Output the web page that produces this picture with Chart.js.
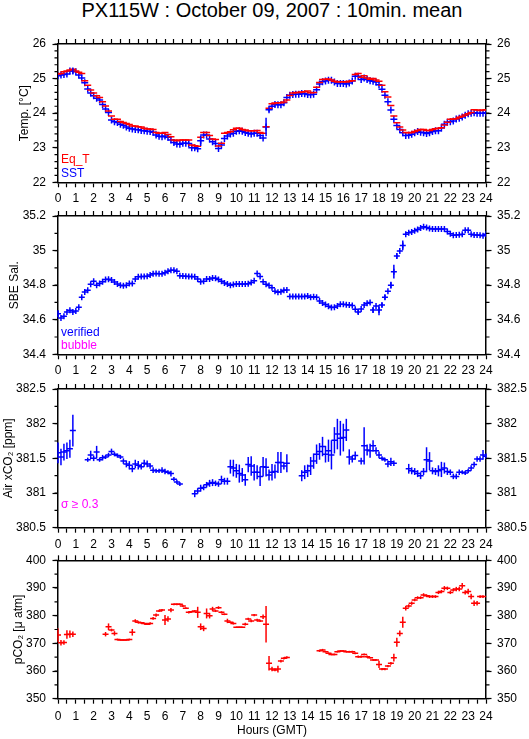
<!DOCTYPE html>
<html>
<head>
<meta charset="utf-8">
<script src="https://cdn.jsdelivr.net/npm/chart.js@4.4.1/dist/chart.umd.min.js"></script>
<style>
  body { margin: 0; background: #fff; font-family: "Liberation Sans", Arial, sans-serif; }
  #page { position: relative; width: 529px; height: 739px; overflow: hidden; }
  .panel { position: absolute; left: 0; width: 529px; }
  .title { position: absolute; left: 58px; width: 428px; top: 0; font-size: 20px; line-height: 20px; text-align: center; }
  .note { position: absolute; left: 61px; font-size: 12px; line-height: 12px; }
</style>
</head>
<body>
<div id="page">
  <div class="title">PX115W : October 09, 2007 : 10min. mean</div>
  <div class="panel" style="top:24px;height:186px"><canvas id="c1"></canvas></div>
  <div class="panel" style="top:200px;height:180px"><canvas id="c2"></canvas></div>
  <div class="panel" style="top:375px;height:175px"><canvas id="c3"></canvas></div>
  <div class="panel" style="top:546px;height:193px"><canvas id="c4"></canvas></div>
  <div class="note" style="top:152.5px;color:#f00">Eq_T</div>
  <div class="note" style="top:166.5px;color:#00f">SST</div>
  <div class="note" style="top:325.8px;color:#00f">verified</div>
  <div class="note" style="top:338.8px;color:#f0f">bubble</div>
  <div class="note" style="top:497.5px;color:#f0f">σ ≥ 0.3</div>
</div>
<script>
/* 10-minute means, one row per hour (6 values), last value = 24:00 */

// sampling grid: 0 .. 24 h every 10 min
const hours = Array.from({ length: 145 }, (_, i) => i / 6);

const eqT = [
  25.13, 25.15, 25.20, 25.22, 25.25, 25.27,
  25.22, 25.18, 25.15, 24.94, 24.81, 24.67,
  24.58, 24.50, 24.45, 24.33, 24.21, 24.06,
  23.92, 23.82, 23.82, 23.76, 23.73, 23.70,
  23.67, 23.63, 23.63, 23.61, 23.60, 23.56,
  23.54, 23.54, 23.53, 23.44, 23.42, 23.42,
  23.44, 23.38, 23.32, 23.22, 23.20, 23.22,
  23.22, 23.22, 23.22, 23.08, 23.06, 23.04,
  23.30, 23.44, 23.44, 23.35, 23.25, 23.24,
  23.05, 23.13, 23.42, 23.44, 23.46, 23.52,
  23.56, 23.56, 23.53, 23.51, 23.49, 23.49,
  23.49, 23.50, 23.44, 23.42, 23.61, 24.14,
  24.27, 24.29, 24.30, 24.30, 24.32, 24.38,
  24.51, 24.58, 24.60, 24.60, 24.61, 24.62,
  24.64, 24.59, 24.60, 24.75, 24.89, 24.97,
  24.98, 24.99, 24.96, 24.92, 24.90, 24.91,
  24.91, 24.90, 24.92, 24.94, 25.12, 25.15,
  25.04, 25.08, 25.02, 24.98, 25.00, 24.96,
  24.92, 24.81, 24.62, 24.47, 24.22, 23.92,
  23.72, 23.60, 23.51, 23.44, 23.43, 23.44,
  23.47, 23.50, 23.53, 23.53, 23.50, 23.50,
  23.53, 23.55, 23.56, 23.58, 23.66, 23.74,
  23.82, 23.83, 23.84, 23.88, 23.91, 23.95,
  23.98, 24.02, 24.10, 24.09, 24.08, 24.09,
  24.10
];

const sst = [
  25.08, 25.10, 25.12, 25.13, 25.22, 25.22,
  25.20, 25.10, 25.02, 24.88, 24.70, 24.58,
  24.50, 24.43, 24.38, 24.25, 24.12, 24.02,
  23.80, 23.75, 23.73, 23.68, 23.65, 23.60,
  23.56, 23.54, 23.53, 23.52, 23.50, 23.49,
  23.48, 23.47, 23.45, 23.37, 23.33, 23.32,
  23.34, 23.30, 23.22, 23.15, 23.11, 23.10,
  23.13, 23.13, 23.12, 23.00, 23.00, 22.97,
  23.20, 23.37, 23.37, 23.25, 23.17, 23.12,
  22.98, 23.08, 23.27, 23.34, 23.40, 23.42,
  23.48, 23.49, 23.48, 23.44, 23.42, 23.40,
  23.42, 23.42, 23.35, 23.28, 23.60, 24.10,
  24.20, 24.25, 24.24, 24.24, 24.30, 24.45,
  24.52, 24.54, 24.55, 24.55, 24.57, 24.56,
  24.54, 24.53, 24.55, 24.68, 24.84, 24.91,
  24.93, 24.95, 24.95, 24.90, 24.86, 24.86,
  24.86, 24.84, 24.87, 24.93, 25.07, 25.07,
  24.97, 25.02, 24.97, 24.94, 24.92, 24.90,
  24.82, 24.69, 24.52, 24.33, 24.09, 23.82,
  23.64, 23.53, 23.43, 23.35, 23.36, 23.39,
  23.43, 23.47, 23.45, 23.43, 23.41, 23.43,
  23.47, 23.49, 23.49, 23.57, 23.68, 23.74,
  23.75, 23.77, 23.83, 23.85, 23.89, 23.94,
  23.98, 24.00, 24.01, 24.00, 24.00, 24.00,
  24.01
];
// [index, half-length] of the longer SST error bars
const sstBars = [[5, 0.08], [48, 0.15], [70, 0.27], [71, 0.06]];

const salinity = [
  34.635, 34.610, 34.620, 34.645, 34.655, 34.645,
  34.650, 34.672, 34.730, 34.760, 34.770, 34.805,
  34.822, 34.800, 34.810, 34.820, 34.832, 34.834,
  34.830, 34.818, 34.807, 34.800, 34.797, 34.800,
  34.810, 34.810, 34.836, 34.848, 34.850, 34.850,
  34.852, 34.858, 34.866, 34.868, 34.866, 34.866,
  34.872, 34.880, 34.886, 34.886, 34.880, 34.855,
  34.853, 34.852, 34.850, 34.850, 34.848, 34.835,
  34.820, 34.822, 34.836, 34.836, 34.842, 34.840,
  34.832, 34.823, 34.812, 34.806, 34.800, 34.804,
  34.806, 34.807, 34.807, 34.807, 34.808, 34.815,
  34.825, 34.868, 34.850, 34.820, 34.805, 34.798,
  34.785, 34.765, 34.759, 34.762, 34.770, 34.772,
  34.735, 34.734, 34.734, 34.734, 34.734, 34.735,
  34.737, 34.730, 34.733, 34.730, 34.708, 34.697,
  34.688, 34.678, 34.670, 34.672, 34.680, 34.690,
  34.690, 34.687, 34.685, 34.682, 34.660, 34.645,
  34.662, 34.685, 34.695, 34.700, 34.656, 34.680,
  34.656, 34.685, 34.730, 34.764, 34.800, 34.878,
  34.969, 34.998, 35.030, 35.095, 35.103, 35.108,
  35.115, 35.122, 35.130, 35.138, 35.133, 35.128,
  35.125, 35.125, 35.125, 35.125, 35.125, 35.110,
  35.098, 35.088, 35.090, 35.092, 35.094, 35.118,
  35.118, 35.095, 35.090, 35.090, 35.088, 35.086,
  35.094
];
const salBars = [[0, 0.02], [101, 0.012], [106, 0.015], [108, 0.03], [109, 0.012],
                 [110, 0.015], [112, 0.02], [113, 0.04], [114, 0.016], [116, 0.028]];

const airCO2 = [
  381.58, 381.52, 381.59, 381.61, 381.64, 381.90,
  null, null, null, null, 381.48, 381.55,
  381.50, 381.59, 381.48, 381.51, 381.52, 381.55,
  381.60, 381.56, 381.54, 381.52, 381.46, 381.42,
  381.40, 381.35, 381.42, 381.40, 381.38, 381.43,
  381.42, 381.39, 381.33, 381.32, 381.32, 381.33,
  381.31, 381.30, 381.28, 381.20, 381.16, 381.13,
  null, null, null, null, 380.99, 381.03,
  381.07, 381.08, 381.12, 381.14, 381.15, 381.14,
  381.13, 381.19, 381.17, 381.17, 381.38, 381.36,
  381.32, 381.28, 381.26, 381.19, 381.41, 381.39,
  381.30, 381.30, 381.24, 381.38, 381.37, 381.26,
  381.30, 381.31, 381.44, 381.44, 381.39, 381.43,
  null, null, null, null, 381.25, 381.30,
  381.32, 381.39, 381.46, 381.56, 381.60, 381.67,
  381.56, 381.61, 381.55, 381.76, 381.85, 381.79,
  381.80, 381.91, 381.52, 381.49, 381.54, null,
  381.46, 381.68, 381.62, 381.61, 381.68, 381.61,
  381.55, 381.50, 381.48, 381.42, 381.45, 381.43,
  null, null, null, null, 381.35, 381.32,
  381.31, 381.28, 381.25, 381.31, 381.48, 381.46,
  381.32, 381.31, 381.32, 381.34, 381.36, 381.31,
  381.30, 381.24, 381.24, 381.30, 381.30, 381.29,
  381.32, 381.36, 381.41, 381.49, 381.49, 381.55,
  381.53
];
const airErr = [
  0.15, 0.12, 0.12, 0.12, 0.13, 0.23,
  0, 0, 0, 0, 0.03, 0.06,
  0.04, 0.09, 0.03, 0.04, 0.03, 0.03,
  0.04, 0.03, 0.03, 0.03, 0.04, 0.05,
  0.06, 0.05, 0.06, 0.06, 0.04, 0.05,
  0.05, 0.04, 0.04, 0.03, 0.03, 0.04,
  0.04, 0.03, 0.04, 0.03, 0.03, 0.03,
  0, 0, 0, 0, 0.05, 0.04,
  0.05, 0.04, 0.04, 0.05, 0.05, 0.04,
  0.04, 0.06, 0.05, 0.05, 0.10, 0.12,
  0.10, 0.13, 0.10, 0.085, 0.11, 0.14,
  0.12, 0.10, 0.14, 0.14, 0.13, 0.08,
  0.12, 0.10, 0.15, 0.15, 0.05, 0.13,
  0, 0, 0, 0, 0.08, 0.10,
  0.09, 0.13, 0.11, 0.14, 0.12, 0.14,
  0.12, 0.16, 0.21, 0.19, 0.22, 0.25,
  0.20, 0.16, 0.11, 0.05, 0.06, 0,
  0.05, 0.27, 0.08, 0.10, 0.08, 0.05,
  0.05, 0.03, 0.03, 0.05, 0.06, 0.04,
  0, 0, 0, 0, 0.07, 0.05,
  0.05, 0.05, 0.05, 0.05, 0.18, 0.13,
  0.05, 0.05, 0.08, 0.11, 0.08, 0.05,
  0.04, 0.04, 0.04, 0.04, 0.03, 0.03,
  0.03, 0.04, 0.04, 0.04, 0.04, 0.07,
  0.04
];

const pCO2 = [
  373.0, 370.2, 370.3, 373.2, 373.3, 373.3,
  null, null, null, null, null, null,
  null, null, null, null, 373.3, 376.0,
  374.8, 373.6, 371.4, 371.2, 371.2, 371.2,
  371.4, 374.0, 378.1, 377.6, 377.4, 377.2,
  376.9, 377.2, 379.0, 380.2, 381.7, 382.0,
  378.4, 378.8, 382.0, 384.1, 384.1, 384.1,
  383.5, 382.7, 381.2, 381.4, 381.7, 381.2,
  376.0, 375.4, 380.8, 380.0, 382.4, 381.7,
  382.9, 381.2, 380.5, 378.1, 377.6, 377.2,
  375.8, 375.8, 375.8, 376.9, 378.8, 378.1,
  380.2, 378.4, 378.1, 379.6, 376.9, 362.8,
  360.7, 360.4, 360.7, 363.6, 364.6, 364.9,
  null, null, null, null, null, null,
  null, null, null, null, 367.3, 367.6,
  367.0, 366.4, 366.0, 366.0, 367.0, 367.2,
  367.2, 367.0, 367.0, 367.0, 366.4, 365.2,
  365.2, 366.0, 365.2, 364.8, 364.0, 364.0,
  362.4, 360.7, 360.7, 361.8, 362.8, 364.8,
  370.4, 373.6, 377.6, 382.7, 383.5, 384.5,
  385.7, 386.5, 386.5, 387.5, 387.2, 386.9,
  386.9, 386.9, 388.4, 388.7, 389.9, 389.9,
  388.4, 389.3, 389.6, 389.6, 390.8, 388.4,
  388.7, 386.9, 384.5, 384.5, 386.9, 386.9,
  null
];
const pCO2Err = [
  2.4, 1.0, 0.8, 1.5, 1.3, 1.0,
  0, 0, 0, 0, 0, 0,
  0, 0, 0, 0, 0.8, 1.2,
  0.5, 0.8, 0.3, 0.2, 0.2, 0.2,
  0.3, 1.2, 0.6, 0.4, 0.3, 0.3,
  0.3, 0.4, 0.5, 0.6, 0.4, 0.4,
  1.8, 1.0, 0.8, 0.3, 0.3, 0.3,
  0.4, 0.3, 0.4, 0.3, 0.3, 2.0,
  1.2, 1.0, 1.8, 1.0, 0.8, 0.4,
  0.5, 0.4, 0.3, 0.8, 0.3, 0.4,
  0.2, 0.2, 0.2, 0.5, 0.4, 0.5,
  0.4, 0.5, 0.4, 0.8, 6.6, 2.6,
  0.8, 0.5, 1.2, 0.5, 0.4, 0.4,
  0, 0, 0, 0, 0, 0,
  0, 0, 0, 0, 0.4, 0.4,
  0.3, 0.3, 0.3, 0.3, 0.3, 0.3,
  0.3, 0.3, 0.3, 0.3, 0.3, 0.4,
  0.4, 0.3, 0.4, 0.3, 0.3, 0.3,
  1.3, 0.4, 0.4, 0.4, 0.5, 1.4,
  1.6, 1.0, 2.0, 0.8, 0.6, 0.6,
  0.5, 0.5, 0.5, 0.6, 0.5, 0.5,
  0.5, 0.5, 0.6, 0.6, 0.8, 0.6,
  0.6, 0.6, 0.8, 0.8, 1.0, 0.8,
  1.0, 1.0, 1.0, 0.8, 0.5, 0.5,
  0
];

const RED = '#ff0000';
const BLUE = '#0000ff';
const FONT = '"Liberation Sans", "DejaVu Sans", Arial, sans-serif';

function toPoints(values) {
  return hours.map((h, i) => ({ x: h, y: values[i] }));
}

function fromBars(bars) {
  const out = hours.map(() => 0);
  bars.forEach(([i, e]) => { out[i] = e; });
  return out;
}

// vertical error bars drawn through the y scale
const errorBars = {
  id: 'errorBars',
  afterDatasetsDraw(chart) {
    const ctx = chart.ctx;
    chart.data.datasets.forEach((ds, di) => {
      if (!ds.errors) return;
      const meta = chart.getDatasetMeta(di);
      const ys = chart.scales[meta.yAxisID];
      ctx.save();
      ctx.strokeStyle = ds.pointBorderColor;
      ctx.lineWidth = 1.5;
      meta.data.forEach((pt, i) => {
        const v = ds.data[i].y;
        const e = ds.errors[i];
        if (v == null || !e) return;
        ctx.beginPath();
        ctx.moveTo(pt.x, ys.getPixelForValue(v - e));
        ctx.lineTo(pt.x, ys.getPixelForValue(v + e));
        ctx.stroke();
      });
      ctx.restore();
    });
  }
};

// short minor ticks on both y axes
const minorTicks = {
  id: 'minorTicks',
  afterDraw(chart, args, opts) {
    if (!opts.step) return;
    const { ctx, chartArea: a } = chart;
    const ys = chart.scales.y;
    const n = Math.round((ys.max - ys.min) / opts.step);
    ctx.save();
    ctx.strokeStyle = '#000';
    ctx.lineWidth = 1.2;
    for (let k = 0; k <= n; k++) {
      const p = ys.getPixelForValue(ys.min + k * opts.step);
      ctx.beginPath();
      ctx.moveTo(a.left - 3.5, p); ctx.lineTo(a.left, p);
      ctx.moveTo(a.right, p); ctx.lineTo(a.right + 3.5, p);
      ctx.stroke();
    }
    ctx.restore();
  }
};

function yTick(v) { return String(+v.toFixed(2)); }

function makePanel(id, cfg) {
  const border = { display: true, color: '#000', width: 1.5 };
  const xTicks = {
    stepSize: 0.5, autoSkip: false, maxRotation: 0, padding: cfg.xPad,
    color: '#000', font: { family: FONT, size: 12 },
    callback: v => Number.isInteger(v) ? String(v) : ''
  };
  const xGrid = { drawOnChartArea: false, tickLength: 5, tickColor: '#000', tickWidth: 1.2 };
  const yGrid = { drawOnChartArea: false, tickLength: 5.5, tickColor: '#000', tickWidth: 1.2 };
  const yTicks = (pad) => ({
    stepSize: cfg.major, padding: pad, color: '#000',
    font: { family: FONT, size: 12 }, callback: yTick
  });

  return new Chart(document.getElementById(id), {
    type: 'line',
    data: { datasets: cfg.datasets },
    plugins: [errorBars, minorTicks],
    options: {
      responsive: true,
      maintainAspectRatio: false,
      animation: false,
      layout: { padding: 0 },
      plugins: {
        legend: { display: false },
        tooltip: { enabled: false },
        minorTicks: { step: cfg.minor }
      },
      scales: {
        x: {
          type: 'linear', position: 'bottom', min: 0, max: 24,
          ticks: xTicks, grid: xGrid, border,
          title: cfg.xTitle
            ? { display: true, text: cfg.xTitle, color: '#000', font: { family: FONT, size: 12 }, padding: { top: 0, bottom: 0.8 } }
            : { display: false },
          afterFit: s => { s.height = cfg.bottomH; }
        },
        x2: {
          type: 'linear', position: 'top', min: 0, max: 24,
          ticks: { display: false, stepSize: 0.5, autoSkip: false },
          grid: xGrid, border,
          afterFit: s => { s.height = cfg.topH; }
        },
        y: {
          position: 'left', min: cfg.min, max: cfg.max,
          ticks: yTicks(6.5), grid: yGrid, border,
          title: {
            display: true, text: cfg.yTitle, color: '#000',
            font: { family: FONT, size: 12 }, padding: { top: cfg.titlePad, bottom: 0 }
          },
          afterFit: s => { s.width = 58; }
        },
        y2: {
          position: 'right', min: cfg.min, max: cfg.max,
          ticks: yTicks(5.5), grid: yGrid, border,
          afterFit: s => { s.width = 43; }
        }
      }
    }
  });
}

function series(values, color, style, radius, errors) {
  return {
    data: toPoints(values),
    showLine: false,
    pointStyle: style,
    pointRadius: radius,
    pointHoverRadius: radius,
    pointBorderColor: color,
    pointBackgroundColor: color,
    pointBorderWidth: 1.5,
    errors: errors || null
  };
}

makePanel('c1', {
  topH: 20, bottomH: 27.7, xPad: 4.6,
  min: 22, max: 26, major: 1, minor: 0.2,
  yTitle: 'Temp. [°C]', titlePad: 17.8,
  datasets: [
    series(eqT, RED, 'line', 3.5),
    series(sst, BLUE, 'cross', 3.5, fromBars(sstBars))
  ]
});

makePanel('c2', {
  topH: 16, bottomH: 25.7, xPad: 4.6,
  min: 34.4, max: 35.2, major: 0.2, minor: 0.1,
  yTitle: 'SBE Sal.', titlePad: 7.1,
  datasets: [series(salinity, BLUE, 'cross', 3, fromBars(salBars))]
});

makePanel('c3', {
  topH: 14, bottomH: 22.3, xPad: 4.6,
  min: 380.5, max: 382.5, major: 0.5, minor: 0.25,
  yTitle: 'Air xCO₂ [ppm]', titlePad: 1.6,
  datasets: [series(airCO2, BLUE, 'line', 3, airErr)]
});

makePanel('c4', {
  topH: 14.3, bottomH: 40.3, xPad: 6.2,
  min: 350, max: 400, major: 10, minor: 5,
  yTitle: 'pCO₂ [μ atm]', titlePad: 11.8, xTitle: 'Hours (GMT)',
  datasets: [series(pCO2, RED, 'line', 3, pCO2Err)]
});
</script>
</body>
</html>
